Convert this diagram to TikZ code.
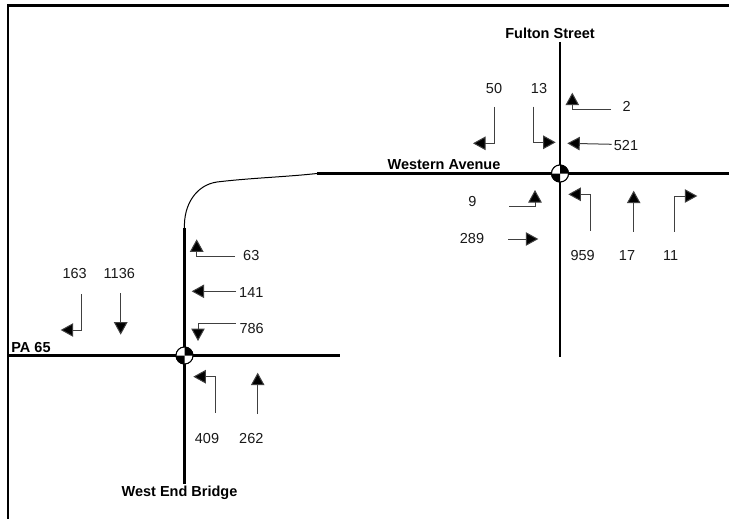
\documentclass[tikz,border=0pt]{standalone}
\usepackage{fontspec}
\setmainfont{Liberation Sans}
\usetikzlibrary{arrows.meta}
\tikzset{
  frameline/.style={line width=2.6pt,black},
  road/.style={line width=2.5pt,black},
  roadthin/.style={line width=1pt,black},
  move/.style={line width=1pt,draw=black!75,-{Triangle[length=12.5pt,width=13.5pt,fill=black]}},
  vol/.style={inner sep=0pt,font=\fontsize{14.5}{16}\selectfont,text=black!90},
  street/.style={inner sep=0pt,font=\fontsize{14.5}{16}\selectfont\bfseries,text=black},
  signal/.style={circle,draw=black,line width=1pt,minimum size=17pt,inner sep=0pt,fill=white}
}
\newcommand{\sigfill}[1]{%
  \fill[black] (#1.center) -- ++(0,-8.5) arc[start angle=90,end angle=0,radius=8.5pt] -- cycle;
  \fill[black] (#1.center) -- ++(0,8.5) arc[start angle=270,end angle=180,radius=8.5pt] -- cycle;
}
\begin{document}
\begin{tikzpicture}[x=1pt,y=-1pt]
\useasboundingbox (0,0) rectangle (729,519);
\fill[white] (0,0) rectangle (729,519);
% frame
\coordinate (fa) at (8,519); \coordinate (fb) at (8,5.5); \coordinate (fc) at (729,5.5);
\draw[frameline,line join=miter] (fa) -- (fb) -- (fc);
% road ends
\coordinate (fultonN) at (560,42);
\coordinate (fultonS) at (560,357);
\coordinate (westernE) at (729,173.5);
\coordinate (westernW) at (317,173.5);
\coordinate (bridgeN) at (184.5,228);
\coordinate (bridgeS) at (184.5,484);
\coordinate (paW) at (8,355.5);
\coordinate (paE) at (340,355.5);
\coordinate (curveA) at (217,182);
% signals
\node[signal] (sigB) at (560,173.5) {};
\node[signal] (sigA) at (184.5,355.5) {};
\draw[road] (fultonN) -- (fultonS);
\draw[road] (westernW) -- (westernE);
\draw[road] (bridgeN) -- (bridgeS);
\draw[road] (paW) -- (paE);
\draw[roadthin] (bridgeN) .. controls (183.5,205) and (196,185) .. (curveA) .. controls (250,178) and (285,177) .. (westernW);
\node[signal] at (sigB.center) {};
\node[signal] at (sigA.center) {};
\sigfill{sigB}
\sigfill{sigA}
% street names
\node[street] (nFulton) at (550,33) {Fulton Street};
\node[street] (nWestern) at (444,165) {Western Avenue};
\node[street] (nPA) at (31,347.5) {PA 65};
\node[street] (nBridge) at (179.5,493) {West End Bridge};
% volumes, upper intersection
\node[vol] (v50) at (494,88.5) {50};
\node[vol] (v13) at (539,88.5) {13};
\node[vol] (v2) at (626.7,106) {2};
\node[vol] (v521) at (626,146) {521};
\node[vol] (v9) at (472.3,201.7) {9};
\node[vol] (v289) at (472,238.3) {289};
\node[vol] (v959) at (582.7,256) {959};
\node[vol] (v17) at (627,256) {17};
\node[vol] (v11) at (670.7,256) {11};
% volumes, lower intersection
\node[vol] (v63) at (251.3,256) {63};
\node[vol] (v141) at (251.3,293) {141};
\node[vol] (v786) at (251.7,329) {786};
\node[vol] (v163) at (74.7,274) {163};
\node[vol] (v1136) at (119.3,274) {1136};
\node[vol] (v409) at (207,438.3) {409};
\node[vol] (v262) at (251.3,438.3) {262};
% movement arrows, upper intersection
\coordinate (a50s) at (494.3,107); \coordinate (a50e) at (473,143.3);
\draw[move] (a50s) |- (a50e);
\coordinate (a13s) at (533.7,106.7); \coordinate (a13e) at (555.7,142.3);
\draw[move] (a13s) |- (a13e);
\coordinate (a2s) at (611,110); \coordinate (a2e) at (572.3,92.7);
\draw[move] (a2s) -| (a2e);
\coordinate (a521s) at (611.7,144.3); \coordinate (a521e) at (567.3,143.3);
\draw[move] (a521s) -- (a521e);
\coordinate (a9s) at (509,206.7); \coordinate (a9e) at (535,190);
\draw[move] (a9s) -| (a9e);
\coordinate (a289s) at (508.3,239); \coordinate (a289e) at (538.3,239);
\draw[move] (a289s) -- (a289e);
\coordinate (a959s) at (590.7,230.7); \coordinate (a959e) at (568.3,194.3);
\draw[move] (a959s) |- (a959e);
\coordinate (a17s) at (633.7,231.7); \coordinate (a17e) at (633.7,190.7);
\draw[move] (a17s) -- (a17e);
\coordinate (a11s) at (674.3,231.7); \coordinate (a11e) at (697.3,196);
\draw[move] (a11s) |- (a11e);
% movement arrows, lower intersection
\coordinate (a63s) at (235,256.7); \coordinate (a63e) at (196.7,239.3);
\draw[move] (a63s) -| (a63e);
\coordinate (a141s) at (236,291.3); \coordinate (a141e) at (191.7,291.3);
\draw[move] (a141s) -- (a141e);
\coordinate (a786s) at (235.7,323.7); \coordinate (a786e) at (198,341);
\draw[move] (a786s) -| (a786e);
\coordinate (a163s) at (81.7,294); \coordinate (a163e) at (60.7,330);
\draw[move] (a163s) |- (a163e);
\coordinate (a1136s) at (120.7,293.3); \coordinate (a1136e) at (120.7,334.7);
\draw[move] (a1136s) -- (a1136e);
\coordinate (a409s) at (215.3,412.7); \coordinate (a409e) at (193.3,376.7);
\draw[move] (a409s) |- (a409e);
\coordinate (a262s) at (257.7,414); \coordinate (a262e) at (257.7,372.7);
\draw[move] (a262s) -- (a262e);
\end{tikzpicture}
\end{document}
